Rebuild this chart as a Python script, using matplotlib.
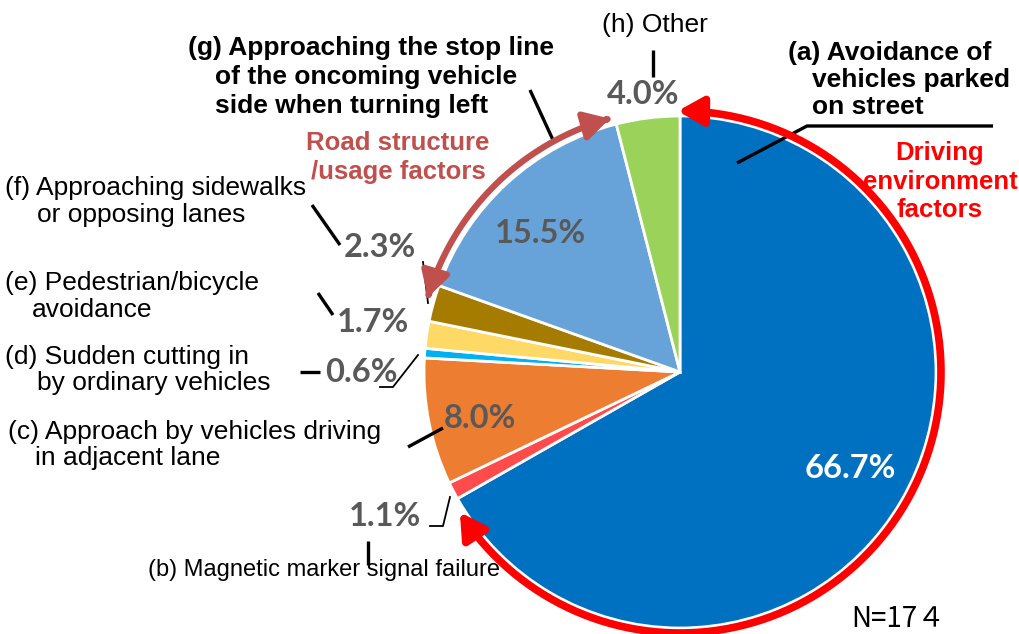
import numpy as np
import matplotlib.pyplot as plt
from matplotlib.patches import FancyArrowPatch
from matplotlib.path import Path

# factor breakdown, clockwise from the top
codes = ['a', 'b', 'c', 'd', 'e', 'f', 'g', 'h']
labels = [
    "(a) Avoidance of\nvehicles parked\non street",
    "(b) Magnetic marker signal failure",
    "(c) Approach by vehicles driving\nin adjacent lane",
    "(d) Sudden cutting in\nby ordinary vehicles",
    "(e) Pedestrian/bicycle\navoidance",
    "(f) Approaching sidewalks\nor opposing lanes",
    "(g) Approaching the stop line\nof the oncoming vehicle\nside when turning left",
    "(h) Other",
]
shares = [66.7, 1.1, 8.0, 0.6, 1.7, 2.3, 15.5, 4.0]
colors = ['#0070C0', '#FF4B4B', '#ED7D31', '#00B0F0', '#FFD966', '#A67C00', '#67A3D9', '#9BD35A']
n_total = "N=17４"

W, H = 1020, 634
fig = plt.figure(figsize=(W / 100, H / 100), dpi=100)
ax = fig.add_axes([0, 0, 1, 1])


def Y(y):
    # image row -> data y
    return H - y


cx, cy, R = 680, Y(372), 256
ax.pie(shares, colors=colors, startangle=90, counterclock=False,
       center=(cx, cy), radius=R,
       wedgeprops=dict(edgecolor='white', linewidth=2))
ax.set_xlim(0, W)
ax.set_ylim(0, H)
ax.set_aspect('equal')
ax.axis('off')

# percentage labels
pct_pos = [(850, 468), (385, 517), (480, 418), (361, 372),
           (373, 322), (380, 247), (540, 233), (643, 94)]
for i, v in enumerate(shares):
    x, y = pct_pos[i]
    ax.text(x, Y(y), f"{v:.1f}%", ha='center', va='center',
            fontsize=23.5, fontweight='bold', family='Lato',
            color='white' if codes[i] == 'a' else '#595959')

# category labels: (x first line, x following lines, y first line, line step)
reg = dict(family='Liberation Sans', fontsize=19, color='black')
narrow = dict(family=['Liberation Sans Narrow', 'Liberation Sans'], fontsize=19,
              fontweight='bold', color='black')
lab_layout = {
    'a': (788, 812, 53, 27, narrow),
    'b': (148, 148, 570, 0, dict(reg, fontsize=17)),
    'c': (8, 35, 432, 26, reg),
    'd': (5, 37, 357, 26, reg),
    'e': (5, 32, 283, 27, reg),
    'f': (5, 37, 188, 27, reg),
    'g': (188, 215, 48, 29, narrow),
}
for code, text in zip(codes, labels):
    if code == 'h':
        ax.text(655, Y(25), text, ha='center', va='center', **reg)
        continue
    x0, x1, y0, step, st = lab_layout[code]
    for k, line in enumerate(text.split('\n')):
        ax.text(x0 if k == 0 else x1, Y(y0 + k * step), line,
                ha='left', va='center', **st)

# leader lines
thick = [
    [(653, 50), (653, 77)],                 # h
    [(737, 163), (807, 126), (993, 126)],   # a
    [(530, 90), (553, 140)],                # g
    [(312, 205), (340, 245)],               # f
    [(318, 293), (333, 315)],               # e
    [(300, 372), (320, 372)],               # d
    [(408, 447), (443, 428)],               # c
    [(368, 541), (368, 565)],               # b
]
for seg in thick:
    xs, ys = zip(*seg)
    ax.plot(xs, [Y(v) for v in ys], color='black', lw=2.4, solid_capstyle='butt')
thin = [
    [(423, 262), (428, 303)],
    [(380, 387), (393, 387), (418, 355)],
    [(430, 526), (443, 526), (450, 497)],
]
for seg in thin:
    xs, ys = zip(*seg)
    ax.plot(xs, [Y(v) for v in ys], color='black', lw=1.3)


def arc_arrow(r, a0, a1, color, lw):
    t = np.radians(np.linspace(a0, a1, 120))
    verts = np.column_stack([cx + r * np.cos(t), cy + r * np.sin(t)])
    p = FancyArrowPatch(path=Path(verts), arrowstyle='<|-|>,head_length=15,head_width=8.5',
                        color=color, lw=lw, shrinkA=0, shrinkB=0, zorder=5)
    ax.add_patch(p)


arc_arrow(261, 90.5, -147.5, '#FF0000', 5.5)
arc_arrow(263, 105.5, 163.5, '#C0504D', 4.5)

# group labels
bold = dict(family='Liberation Sans', fontsize=18.5, fontweight='bold')
for k, line in enumerate(["Driving", "environment", "factors"]):
    ax.text(940, Y(153 + k * 28.5), line, ha='center', va='center', color='#FF0000', **bold)
for k, line in enumerate(["Road structure", "/usage factors"]):
    ax.text(398, Y(143 + k * 29), line, ha='center', va='center', color='#C0504D', **bold)

ax.text(898, Y(619), n_total, ha='center', va='center', fontsize=20,
        family=['Noto Sans CJK JP', 'DejaVu Sans'], color='black')

fig.savefig('out.png', dpi=100)
